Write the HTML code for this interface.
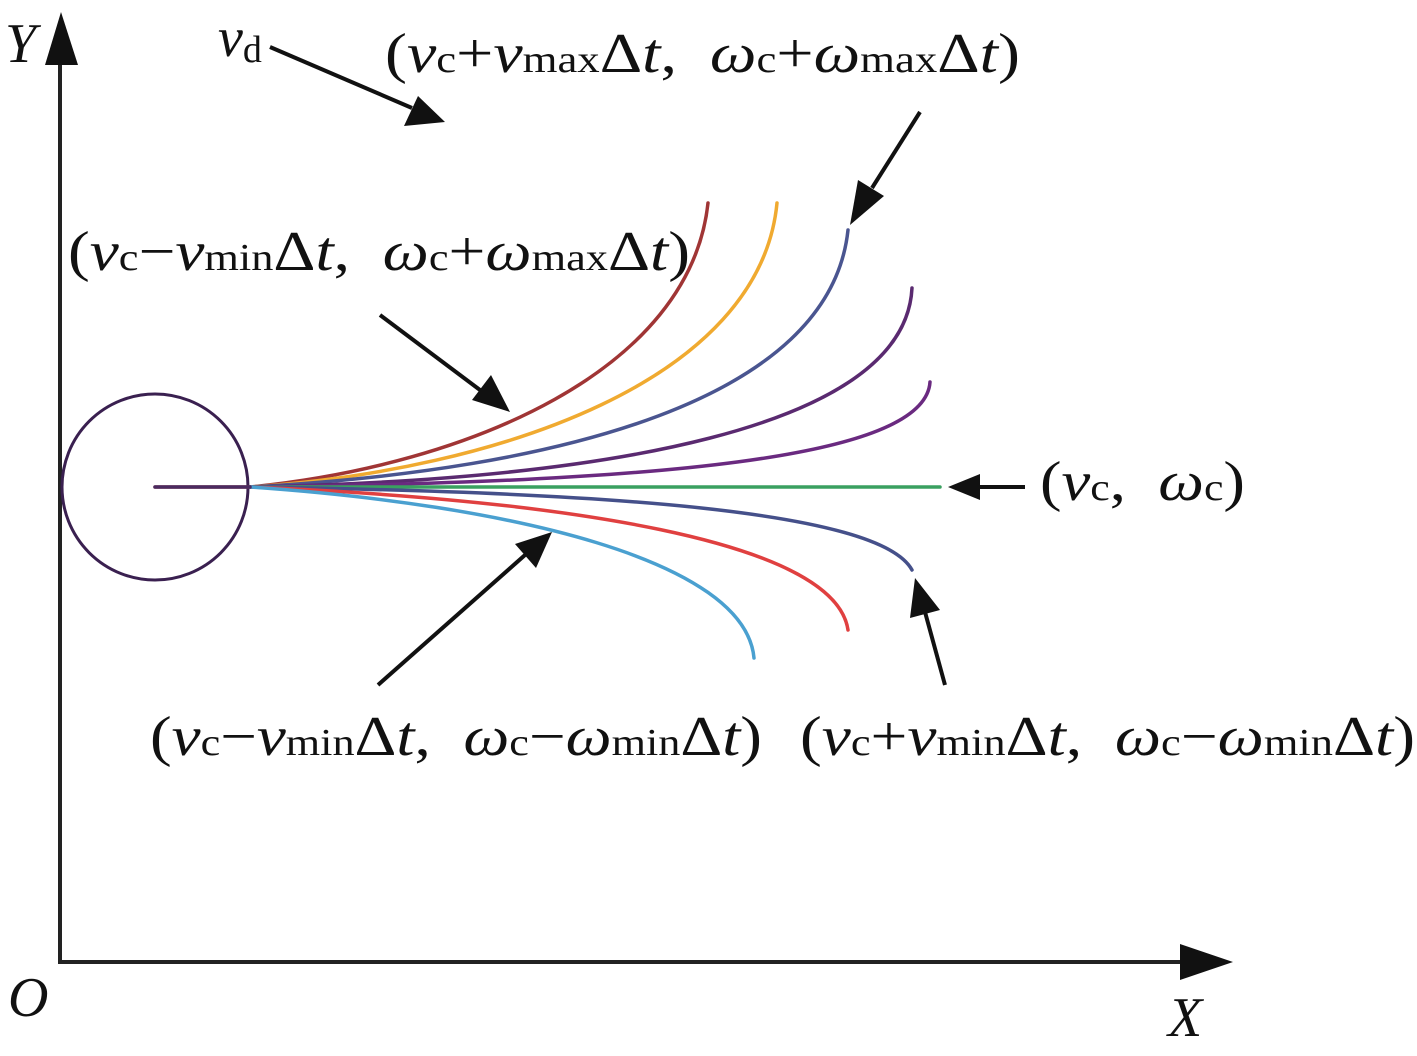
<!DOCTYPE html>
<html><head><meta charset="utf-8"><style>
html,body{margin:0;padding:0;background:#fff;}
svg{display:block}
text,tspan{font-family:'Liberation Serif','Times New Roman',Times,serif;fill:#111;white-space:pre;}
.i{font-style:italic}
.s{font-size:38px;font-style:normal}
</style></head><body>
<svg width="1417" height="1056" viewBox="0 0 1417 1056" xmlns="http://www.w3.org/2000/svg" font-family="Liberation Serif, serif">
<!-- axes -->
<line x1="60" y1="962" x2="60" y2="60" stroke="#222" stroke-width="4"/>
<path d="M45,65 L61,12 L78,65 Z" fill="#111"/>
<line x1="58" y1="962" x2="1185" y2="962" stroke="#222" stroke-width="4"/>
<path d="M1180,944 L1233,962 L1180,980 Z" fill="#111"/>
<text class="i" x="5" y="62" font-size="56">Y</text>
<text class="i" x="8" y="1016" font-size="56">O</text>
<text class="i" x="1168" y="1036" font-size="56">X</text>
<!-- circle -->
<circle cx="155" cy="487" r="93" fill="none" stroke="#3a2050" stroke-width="3"/>
<!-- curves -->
<g fill="none" stroke-width="3.5" stroke-linecap="round">
<path d="M155,487 L250,487 C470,465 690,370 708,203" stroke="#a03535"/>
<path d="M250,487 C500,470 760,380 777,203" stroke="#f0aa30"/>
<path d="M250,487 C560,470 830,400 848,230" stroke="#4a5590"/>
<path d="M250,487 C600,480 905,430 912,288" stroke="#5a2a70"/>
<path d="M250,487 C650,482 925,460 930,382" stroke="#6a2a80"/>
<path d="M250,487 L940,487" stroke="#3aa060"/>
<path d="M250,487 C600,492 880,510 912,570" stroke="#45508a"/>
<path d="M250,487 C560,500 835,540 848,630" stroke="#e04040"/>
<path d="M250,487 C510,505 745,560 754,658" stroke="#4aa0d0"/>
<path d="M155,487 L250,487" stroke="#4a2a60"/>
</g>
<!-- arrows -->
<g stroke="#111" stroke-width="4" fill="none">
<line x1="270" y1="47" x2="412" y2="108"/>
<line x1="920" y1="112" x2="872" y2="188"/>
<line x1="380" y1="315" x2="480" y2="390"/>
<line x1="1025" y1="487" x2="975" y2="487"/>
<line x1="378" y1="685" x2="525" y2="555"/>
<line x1="945" y1="685" x2="925" y2="612"/>
</g>
<g fill="#111">
<path d="M445,122 L404,126 L418,96 Z"/>
<path d="M850,225 L858,180 L884,196 Z"/>
<path d="M510,412 L472,400 L491,375 Z"/>
<path d="M948,487 L980,474 L980,500 Z"/>
<path d="M552,532 L536,568 L515,544 Z"/>
<path d="M915,578 L940,610 L910,618 Z"/>
</g>
<!-- labels -->
<text class="i" x="218" y="56" font-size="56">v<tspan class="s" dy="6">d</tspan></text>
<text x="385" y="72" font-size="56" textLength="635" lengthAdjust="spacingAndGlyphs">(<tspan class="i">v</tspan><tspan class="s">c</tspan>+<tspan class="i">v</tspan><tspan class="s">max</tspan>Δ<tspan class="i">t</tspan>,  <tspan class="i">ω</tspan><tspan class="s">c</tspan>+<tspan class="i">ω</tspan><tspan class="s">max</tspan>Δ<tspan class="i">t</tspan>)</text>
<text x="68" y="270" font-size="56" textLength="622" lengthAdjust="spacingAndGlyphs">(<tspan class="i">v</tspan><tspan class="s">c</tspan>−<tspan class="i">v</tspan><tspan class="s">min</tspan>Δ<tspan class="i">t</tspan>,  <tspan class="i">ω</tspan><tspan class="s">c</tspan>+<tspan class="i">ω</tspan><tspan class="s">max</tspan>Δ<tspan class="i">t</tspan>)</text>
<text x="1040" y="500" font-size="56" textLength="205" lengthAdjust="spacingAndGlyphs">(<tspan class="i">v</tspan><tspan class="s">c</tspan>,  <tspan class="i">ω</tspan><tspan class="s">c</tspan>)</text>
<text x="150" y="755" font-size="56" textLength="612" lengthAdjust="spacingAndGlyphs">(<tspan class="i">v</tspan><tspan class="s">c</tspan>−<tspan class="i">v</tspan><tspan class="s">min</tspan>Δ<tspan class="i">t</tspan>,  <tspan class="i">ω</tspan><tspan class="s">c</tspan>−<tspan class="i">ω</tspan><tspan class="s">min</tspan>Δ<tspan class="i">t</tspan>)</text>
<text x="800" y="755" font-size="56" textLength="615" lengthAdjust="spacingAndGlyphs">(<tspan class="i">v</tspan><tspan class="s">c</tspan>+<tspan class="i">v</tspan><tspan class="s">min</tspan>Δ<tspan class="i">t</tspan>,  <tspan class="i">ω</tspan><tspan class="s">c</tspan>−<tspan class="i">ω</tspan><tspan class="s">min</tspan>Δ<tspan class="i">t</tspan>)</text>
</svg>
</body></html>
